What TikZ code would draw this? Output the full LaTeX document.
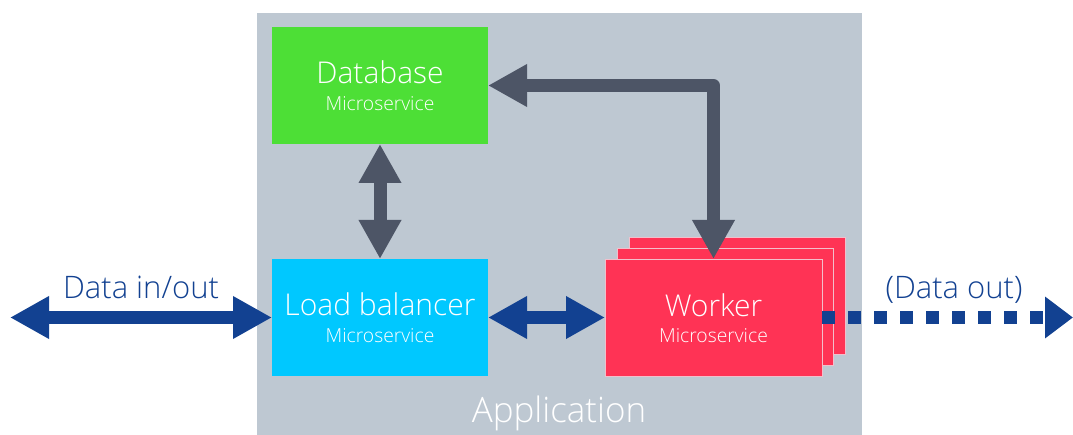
\documentclass[tikz,border=0pt]{standalone}
\usepackage{fontspec}
\setmainfont{Open Sans Light}
\usetikzlibrary{arrows.meta}

\definecolor{appgray}{HTML}{BEC8D2}
\definecolor{dbgreen}{HTML}{4DDF36}
\definecolor{lbcyan}{HTML}{00C8FF}
\definecolor{wkred}{HTML}{FF3355}
\definecolor{wkedge}{HTML}{F2BFCB}
\definecolor{slate}{HTML}{4D5566}
\definecolor{navy}{HTML}{124191}

\tikzset{
  box/.style={minimum width=216pt, minimum height=117pt, inner sep=0pt, outer sep=0pt},
  card/.style={box, fill=wkred, draw=wkedge, line width=0.8pt},
  title/.style={anchor=base, inner sep=0pt, text=white, font=\fontsize{30}{33}\selectfont},
  sub/.style={anchor=base, inner sep=0pt, text=white, font=\fontsize{19.3}{22}\selectfont},
  iolabel/.style={anchor=base, inner sep=0pt, text=navy, font=\fontsize{31}{34}\selectfont},
  bluearrow/.style={draw=navy, line width=13pt, {Triangle[length=39pt, width=40pt]}-{Triangle[length=39pt, width=40pt]}},
  grayarrow/.style={draw=slate, line width=13pt, {Triangle[length=39pt, width=40pt]}-{Triangle[length=39pt, width=40pt]}},
}

\begin{document}
\begin{tikzpicture}[x=1pt, y=-1pt]
  \useasboundingbox (0,0) rectangle (1073,435);

  % application area
  \fill[appgray] (257,13) rectangle (862,435);
  \node[anchor=base, inner sep=0pt, text=white, font=\fontsize{35}{38}\selectfont] (app) at (559,422) {Application};

  % microservice boxes
  \node[box, fill=dbgreen] (db) at (380,85.5) {};
  \node[box, fill=lbcyan] (lb) at (380,317.5) {};

  % stacked worker cards
  \node[card] (w3) at (737,296) {};
  \node[card] (w2) at (725,307) {};
  \node[card, minimum width=217pt] (worker) at (713.5,317.5) {};

  % box labels
  \node[title] (dbt) at (380,84) {Database};
  \node[sub] (dbs) at (380,111) {Microservice};
  \node[title] (lbt) at (380,316) {Load balancer};
  \node[sub] (lbs) at (380,343) {Microservice};
  \node[title] (wkt) at (713.5,317) {Worker};
  \node[sub] (wks) at (713.5,343) {Microservice};

  % connector end points outside the boxes
  \coordinate (inout) at (10,317.5);
  \coordinate (out) at (1073,317.5);

  % data flow arrows
  \draw[bluearrow] (inout) -- (lb.west);
  \node[iolabel] (inl) at (141,299) {Data in/out};
  \draw[bluearrow] (lb.east) -- (worker.west);
  \draw[draw=navy, line width=13pt, dash pattern=on 13pt off 13pt, -{Triangle[length=28pt, width=40pt]}] (worker.east) -- (out);
  \node[iolabel] (outl) at (954,299) {(Data out)};

  % internal service links
  \draw[grayarrow] (db.south) -- (lb.north);
  \draw[grayarrow, line join=round] (db.east) -| (worker.north);
\end{tikzpicture}
\end{document}
